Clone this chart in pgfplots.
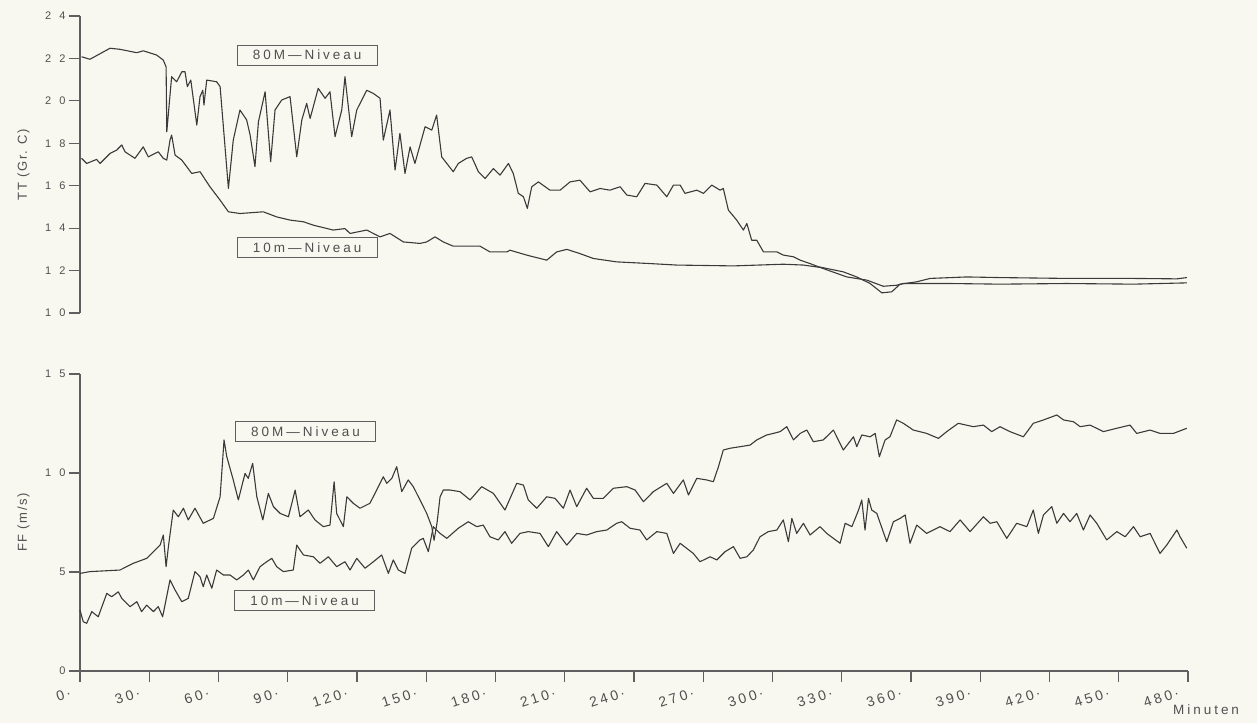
\documentclass[border=0pt]{standalone}
\usepackage{fontspec}
\setmainfont{Liberation Sans}
\newfontfamily\plotfont[LetterSpace=12]{Liberation Sans}
\newfontfamily\boxfont[LetterSpace=22]{Liberation Sans}
\usepackage{pgfplots}
\pgfplotsset{compat=1.18}
\definecolor{bg}{RGB}{249,248,240}
\definecolor{ink}{RGB}{58,58,58}
\definecolor{axgray}{RGB}{95,95,95}
\definecolor{txt}{RGB}{80,80,80}

\pgfplotstableread{
x T
0.7 22.08
4.3 21.96
13 22.48
17.3 22.43
24.6 22.27
27.4 22.36
33.2 22.16
36.1 21.92
37.3 21.6
37.6 18.54
39.7 21.14
41.9 20.9
44.1 21.37
45.5 21.37
46.5 20.67
48 20.98
50.6 18.86
52 20.2
53.2 20.5
53.7 19.8
54.9 20.98
59.2 20.9
60.7 20.67
64.3 15.87
66.4 18.15
69.3 19.57
72.2 19.1
73.7 18.39
75.8 16.9
77.3 19.01
80.2 20.43
82.6 17.13
84.5 19.57
87.4 20.04
91 20.2
93.9 17.36
96.1 19.1
98.2 19.88
99.7 19.17
103.2 20.59
106.2 20.12
108.3 20.43
110.5 18.31
113.4 19.57
114.8 21.14
117.7 18.31
119.9 19.57
124.2 20.5
127.1 20.35
130 20.12
131.4 18.15
134.3 19.57
136.5 16.74
138.6 18.47
140.8 16.58
143 17.83
145.1 17.05
149.5 18.78
152.4 18.62
154.5 19.33
156.7 17.36
161.7 16.66
163.9 17.05
167.5 17.29
169.7 17.36
172.6 16.66
175.5 16.34
179.1 16.81
182 16.5
185.6 17.05
187.7 16.58
189.9 15.64
192.1 15.48
193.8 14.93
195.7 15.95
198.6 16.18
203.6 15.79
208 15.79
212.3 16.18
216.6 16.26
221 15.71
225.3 15.87
229.6 15.79
234 15.95
236.9 15.56
241.2 15.48
244.8 16.11
249.9 16.03
254.2 15.48
257.1 16.03
260 16.03
262.1 15.64
267.2 15.79
270.1 15.64
273.7 16.03
277.3 15.79
278.7 15.87
280.9 14.85
284.5 14.38
287.4 13.91
288.9 14.22
291 13.43
293.2 13.43
296.1 12.88
301.9 12.88
304.7 12.73
309.1 12.65
312 12.49
316.3 12.33
319.9 12.18
330.7 11.94
336.5 11.7
342.3 11.39
347.4 10.95
351.7 11.0
355.3 11.36
362.5 11.47
368.3 11.63
384.2 11.7
398.6 11.67
427.5 11.63
456.2 11.63
475.2 11.61
479.5 11.67
}\ttachtzig

\pgfplotstableread{
x T
0.7 17.29
2.9 17.05
7.2 17.24
8.7 17.05
13 17.52
15.9 17.68
18.1 17.92
19.5 17.6
23.8 17.29
27.4 17.83
29.6 17.36
33.9 17.6
36.1 17.29
37.6 17.21
39 18.15
39.7 18.39
41.2 17.44
44.1 17.21
48.4 16.58
52 16.66
56.3 15.95
60.7 15.32
64.3 14.77
69.3 14.69
79.4 14.77
85.2 14.53
91 14.38
96.8 14.3
101.1 14.14
109.7 13.91
114.8 13.98
117 13.75
124.2 13.91
130 13.59
134.3 13.75
140.1 13.35
147.3 13.28
150.2 13.35
153.8 13.59
157.4 13.35
161.7 13.15
173.3 13.15
177.6 12.88
184.9 12.88
186.3 12.96
193.5 12.73
202.2 12.49
206.5 12.88
210.9 13.0
216.6 12.8
222.4 12.57
232.5 12.41
247 12.33
258.5 12.26
283.1 12.22
304.7 12.3
313.4 12.26
320.6 12.15
332.2 11.7
340.9 11.55
348 11.26
353.9 11.31
356.7 11.39
377 11.39
398.6 11.36
427.5 11.39
456.4 11.36
479.5 11.42
}\ttzehn

\pgfplotstableread{
x F
0 4.93
4.3 5.02
17.3 5.1
23.1 5.44
28.9 5.69
34.7 6.36
36.1 6.87
37.3 5.27
38.3 6.28
40.4 8.13
42.6 7.79
44.8 8.22
46.9 7.63
49.8 8.22
53.4 7.46
57.8 7.71
60.7 8.8
62.4 11.67
63.6 10.82
66.4 9.65
68.6 8.64
71.5 9.98
72.9 9.73
74.8 10.49
76.6 8.8
79.2 7.63
81.6 8.97
83.8 8.3
86.7 7.96
90.3 7.79
93.2 9.14
95.3 7.79
98.9 8.13
101.8 7.63
105.4 7.29
108.3 7.37
110.1 9.56
111.2 7.96
114.1 7.29
115.6 8.8
118.4 8.47
121.3 8.22
125.6 8.47
127.8 8.97
131.4 9.81
132.9 9.48
135.1 9.73
137.2 10.32
139.4 9.06
142.2 9.65
144.4 9.31
147.3 8.64
150.2 7.96
152.4 7.29
153.4 6.6
154.7 7.5
156 8.8
157.4 9.14
160.3 9.14
164.6 9.06
169 8.64
174 9.31
179.1 8.97
184.1 8.13
189.2 9.48
192.1 9.39
194.2 8.64
197.9 8.22
202.2 8.8
205.8 8.72
209.4 8.22
212.3 9.14
215.2 8.3
219.5 9.23
222.4 8.72
226.7 8.72
231.1 9.23
236.9 9.31
240.5 9.14
244.1 8.55
248.4 9.06
254.2 9.48
257.1 8.97
261.4 9.65
263.6 8.89
267.2 9.73
271.5 9.65
274.4 9.56
276.6 10.32
278.7 11.16
281.6 11.25
286 11.33
290.3 11.41
293.2 11.67
297.5 11.92
300.4 12.0
303.3 12.09
306.2 12.34
309.1 11.67
312 12.0
314.9 12.17
317.7 11.58
322 11.67
326.4 12.17
330.7 11.16
335.1 11.83
336.5 11.33
338.7 11.92
342.3 11.83
344.5 12.0
346.3 10.82
348.8 11.67
350.9 11.83
353.8 12.68
356.7 12.51
361 12.17
366.8 12.0
371.9 11.75
375.5 12.09
380.5 12.51
387 12.34
391.4 12.42
395 12.09
398.6 12.34
402.9 12.09
408.7 11.83
413 12.51
417.4 12.68
423.2 12.93
426.1 12.68
430.4 12.59
433.3 12.34
437.6 12.42
443.4 12.09
449.2 12.26
454.9 12.42
457.8 12.0
463.6 12.17
467.9 12.0
473.7 12.0
479.5 12.26
}\ffachtzig

\pgfplotstableread{
x F
0 3.08
1.4 2.49
2.9 2.41
5.1 3.0
7.9 2.74
11.6 3.92
13.7 3.75
16.6 4.0
18.1 3.67
21.7 3.25
24.6 3.5
26.7 3.0
28.9 3.33
31.8 3.0
33.9 3.25
35.8 2.74
39 4.6
41.2 4.09
44.1 3.5
46.9 3.67
49.8 5.02
52 4.76
53.4 4.26
54.9 4.85
57.1 4.18
59.2 5.1
62.1 4.85
65 4.85
67.9 4.6
70.8 4.85
72.9 5.1
75.1 4.6
78 5.27
80.9 5.52
83.1 5.69
85.2 5.27
88.1 5.02
92.4 5.1
93.9 6.36
96.8 5.86
101.1 5.77
104 5.44
107.6 5.77
111.2 5.27
114.8 5.52
117 5.1
119.9 5.69
123.5 5.19
127.1 5.52
130.7 5.86
133.6 4.93
135.7 5.61
137.9 5.1
140.8 4.93
143.7 6.2
147.3 6.62
148.7 6.7
150.9 6.03
153.1 7.29
156 6.95
158.9 6.7
163.9 7.21
168.2 7.54
171.9 7.29
174.7 7.37
177.6 6.78
181.2 6.62
184.1 7.04
187 6.45
190.6 6.95
194.2 7.04
199.3 6.95
202.9 6.28
206.5 7.04
210.9 6.36
215.2 6.95
219.5 6.87
223.9 7.04
228.2 7.12
232.5 7.46
234.7 7.54
238.3 7.21
242.6 7.12
245.5 6.62
249.9 7.04
254.2 6.95
257.1 5.94
260 6.45
265.7 5.94
268.6 5.52
273 5.77
275.9 5.61
279.5 6.03
283.1 6.28
286 5.69
288.9 5.77
291.7 6.11
294.6 6.78
298.2 7.04
301.9 7.12
304.7 7.63
306.9 6.53
308.4 7.71
310.5 6.95
313.4 7.46
316.3 6.87
320.6 7.29
323.5 6.95
329.3 6.45
331.5 7.46
334.4 7.29
337.3 8.13
338.7 8.64
340.1 7.12
341.6 8.72
343 8.13
345.2 7.96
349.5 6.53
352.4 7.54
355.3 7.71
357.5 7.88
359.6 6.45
362.5 7.37
366.8 6.95
372.6 7.29
376.9 7.04
381.3 7.63
385.6 7.04
391.4 7.79
394.3 7.46
397.2 7.54
401.5 6.7
405.8 7.46
410.2 7.29
413 8.13
415.2 6.95
417.4 7.88
421 8.3
423.2 7.46
426.1 7.96
428.9 7.54
431.8 7.96
434.7 7.12
437.6 7.88
440.5 7.46
444.8 6.62
449.2 7.04
452.8 6.78
456.4 7.29
459.3 6.78
463.6 6.95
467.9 5.94
470.8 6.36
475.2 7.12
476.6 6.78
479.5 6.2
}\ffzehn

\pgfplotsset{
  plotterbase/.style={
    scale only axis, width=1108pt, height=297pt,
    xmin=0, xmax=480, clip=false,
    axis line style={draw=none},
    tick style={draw=axgray, line width=1.1pt},
    tick align=outside, major tick length=11pt,
    ytick pos=left, xtick pos=lower,
    yticklabel style={font=\boxfont\fontsize{11pt}{12pt}\selectfont, text=txt},
    ylabel style={font=\plotfont\fontsize{13pt}{14pt}\selectfont, text=txt,
      at={(axis description cs:-0.051,0.5)}, anchor=center},
    cycle list={{draw=ink, line width=1.1pt, line join=round, no markers},
                {draw=ink, line width=1.1pt, line join=round, no markers}},
  },
}
\tikzset{
  niveau/.style={draw=axgray, line width=1pt, fill=bg, minimum width=140pt,
    minimum height=20pt, inner sep=0pt, text=txt,
    font=\boxfont\fontsize{13.5pt}{14pt}\selectfont},
  spine/.style={draw=axgray, line width=1.1pt},
}
\newcommand{\tl}[2]{#1\hspace{8pt}#2}

\begin{document}
\begin{tikzpicture}
\fill[bg] (0,0) rectangle (1257pt,-723pt);
\useasboundingbox (0,0) rectangle (1257pt,-723pt);

% TT
\begin{axis}[plotterbase,
  at={(80pt,-313pt)}, anchor=south west,
  ymin=10, ymax=24,
  xtick=\empty,
  ytick={10,12,...,24},
  yticklabels={\tl10,\tl12,\tl14,\tl16,\tl18,\tl20,\tl22,\tl24},
  ylabel={TT (Gr. C)},
]
\draw[spine] (rel axis cs:0,0) -- (rel axis cs:0,1);
\addplot table[x=x, y=T] {\ttachtzig};
\addplot table[x=x, y=T] {\ttzehn};
\node[niveau] at (axis cs:98.4,22.16) {80M\hspace{3pt}—\hspace{3pt}Niveau};
\node[niveau] at (axis cs:98.4,13.08) {10m\hspace{3pt}—\hspace{3pt}Niveau};
\end{axis}

% FF
\begin{axis}[plotterbase,
  at={(80pt,-671pt)}, anchor=south west,
  ymin=0, ymax=15,
  ytick={0,5,10,15},
  yticklabels={0,5,\tl10,\tl15},
  xtick={0,30,...,480},
  xticklabels={0\,·,30\,·,60\,·,90\,·,120\,·,150\,·,180\,·,210\,·,240\,·,270\,·,300\,·,330\,·,360\,·,390\,·,420\,·,450\,·,480\,·},
  xticklabel style={font=\boxfont\fontsize{14pt}{15pt}\selectfont, text=txt,
    anchor=east, xshift=-6pt, yshift=-9pt, rotate=18},
  ylabel={FF (m/s)},
  xlabel={Minuten},
  xlabel style={font=\boxfont\fontsize{13.5pt}{14pt}\selectfont, text=txt,
    at={(axis description cs:1,0)}, anchor=north west, inner sep=0pt,
    xshift=-15pt, yshift=-34pt},
]
\draw[spine] (rel axis cs:0,0) -- (rel axis cs:0,1);
\draw[spine] (rel axis cs:0,0) -- (rel axis cs:1,0);
\addplot table[x=x, y=F] {\ffachtzig};
\addplot table[x=x, y=F] {\ffzehn};
\node[niveau] at (axis cs:97.7,12.1) {80M\hspace{3pt}—\hspace{3pt}Niveau};
\node[niveau] at (axis cs:97.3,3.56) {10m\hspace{3pt}—\hspace{3pt}Niveau};
\end{axis}
\end{tikzpicture}
\end{document}
